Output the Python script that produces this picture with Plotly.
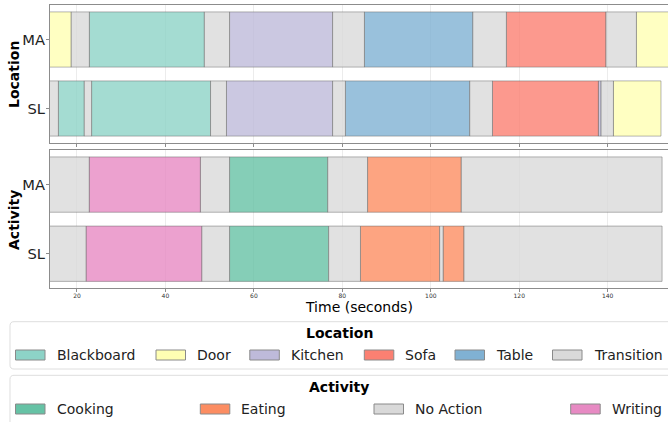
import plotly.graph_objects as go

W, H = 668, 422

# ---------------- data ----------------
rows = ["MA", "SL"]
x_ticks = [20, 40, 60, 80, 100, 120, 140]

location_categories = ["Blackboard", "Door", "Kitchen", "Sofa", "Table", "Transition"]
location_colors = ["#8dd3c7", "#ffffb3", "#bebada", "#fb8072", "#80b1d3", "#d9d9d9"]

activity_categories = ["Cooking", "Eating", "No Action", "Writing"]
activity_colors = ["#66c2a5", "#fc8d62", "#d9d9d9", "#e78ac3"]

loc_ma_labels = ["Door", "Transition", "Blackboard", "Transition", "Kitchen", "Transition",
                 "Table", "Transition", "Sofa", "Transition", "Door"]
loc_ma_starts = [13.0, 18.7, 22.8, 48.8, 54.5, 77.8, 85.0, 109.5, 117.1, 139.6, 146.5]
loc_ma_ends = [18.7, 22.8, 48.8, 54.5, 77.8, 85.0, 109.5, 117.1, 139.6, 146.5, 156.0]

loc_sl_labels = ["Transition", "Blackboard", "Transition", "Blackboard", "Transition", "Kitchen",
                 "Transition", "Table", "Transition", "Sofa", "Kitchen", "Transition", "Door"]
loc_sl_starts = [13.0, 15.8, 21.65, 23.3, 50.2, 53.8, 77.8, 80.7, 108.8, 113.95, 137.9, 138.5, 141.3]
loc_sl_ends = [15.8, 21.65, 23.3, 50.2, 53.8, 77.8, 80.7, 108.8, 113.95, 137.9, 138.5, 141.3, 152.05]

act_ma_labels = ["No Action", "Writing", "No Action", "Cooking", "No Action", "Eating", "No Action"]
act_ma_starts = [13.0, 22.8, 47.9, 54.5, 76.7, 85.7, 106.9]
act_ma_ends = [22.8, 47.9, 54.5, 76.7, 85.7, 106.9, 152.3]

act_sl_labels = ["No Action", "Writing", "No Action", "Cooking", "No Action", "Eating",
                 "No Action", "Eating", "No Action"]
act_sl_starts = [13.0, 22.1, 48.2, 54.5, 76.9, 84.1, 102.0, 102.8, 107.5]
act_sl_ends = [22.1, 48.2, 54.5, 76.9, 84.1, 102.0, 102.8, 107.5, 152.3]


# ---------------- helpers ----------------
def hex_rgba(h, a):
    h = h.lstrip("#")
    r, g, b = int(h[0:2], 16), int(h[2:4], 16), int(h[4:6], 16)
    return f"rgba({r},{g},{b},{a})"


def px_x(px):
    return px / W


def px_y(py):
    return 1 - py / H


EDGE = "rgba(95,95,95,0.45)"
FRAME = "#8c8c8c"
FONT = "DejaVu Sans"

fig = go.Figure()


def add_panel(cats, colors, row_data, xaxis, yaxis):
    for cat, col in zip(cats, colors):
        ys, xs, bases = [], [], []
        for row, (labels, starts, ends) in zip(rows, row_data):
            for lab, s, e in zip(labels, starts, ends):
                if lab == cat:
                    ys.append(row)
                    xs.append(e - s)
                    bases.append(s)
        if not ys:
            continue
        fig.add_trace(go.Bar(
            orientation="h", y=ys, x=xs, base=bases, width=0.8,
            marker=dict(color=hex_rgba(col, 0.8), line=dict(color=EDGE, width=1)),
            name=cat, showlegend=False, xaxis=xaxis, yaxis=yaxis,
            hovertemplate=cat + ": %{base:.1f}–%{x:.1f}s<extra></extra>",
        ))


add_panel(location_categories, location_colors,
          [(loc_ma_labels, loc_ma_starts, loc_ma_ends), (loc_sl_labels, loc_sl_starts, loc_sl_ends)],
          "x", "y")
add_panel(activity_categories, activity_colors,
          [(act_ma_labels, act_ma_starts, act_ma_ends), (act_sl_labels, act_sl_starts, act_sl_ends)],
          "x2", "y2")

x_range = [13.9, 153.64]
x_dom = [px_x(50), 1.0]
top_dom = [px_y(143), px_y(5)]
bot_dom = [px_y(288.3), px_y(150)]

xcommon = dict(range=x_range, domain=x_dom, tickvals=x_ticks, showgrid=True,
               gridcolor="#ececec", gridwidth=1, showline=True, linecolor=FRAME,
               linewidth=1.2, mirror=True, ticks="outside", ticklen=3, tickcolor=FRAME,
               zeroline=False, automargin=False)
ycommon = dict(type="category", categoryorder="array", categoryarray=rows,
               range=[1.5, -0.5], showgrid=False, showline=True, linecolor=FRAME,
               linewidth=1.2, mirror=False, ticks="outside", ticklen=3, tickcolor=FRAME,
               tickfont=dict(family=FONT, size=14.7, color="#222222"), automargin=False,
               zeroline=False, ticklabelstandoff=-2)

fig.update_layout(
    width=W, height=H,
    margin=dict(l=0, r=0, t=0, b=0),
    paper_bgcolor="white", plot_bgcolor="white",
    barmode="overlay",
    font=dict(family=FONT, color="#222222"),
    xaxis=dict(**xcommon, anchor="y", showticklabels=False),
    xaxis2=dict(**xcommon, anchor="y2", matches="x", showticklabels=True,
                tickfont=dict(family=FONT, size=6, color="#333333"), ticklabelstandoff=-2),
    yaxis=dict(**ycommon, domain=top_dom, anchor="x"),
    yaxis2=dict(**ycommon, domain=bot_dom, anchor="x2"),
    showlegend=False,
)

annotations = []
shapes = []

# axis titles
annotations.append(dict(text="<b>Location</b>", x=px_x(14), y=px_y(75), xref="paper", yref="paper",
                        textangle=-90, showarrow=False, font=dict(family=FONT, size=14, color="black"),
                        xanchor="center", yanchor="middle"))
annotations.append(dict(text="<b>Activity</b>", x=px_x(14), y=px_y(220), xref="paper", yref="paper",
                        textangle=-90, showarrow=False, font=dict(family=FONT, size=14, color="black"),
                        xanchor="center", yanchor="middle"))
annotations.append(dict(text="Time (seconds)", x=px_x(359), y=px_y(306.5), xref="paper", yref="paper",
                        showarrow=False, font=dict(family=FONT, size=14, color="black"),
                        xanchor="center", yanchor="middle"))


# ---------------- custom legends ----------------
def rounded_box(x0, y0, x1, y1, r=4):
    X = lambda v: f"{px_x(v):.5f}"
    Y = lambda v: f"{px_y(v):.5f}"
    return (f"M {X(x0 + r)} {Y(y0)} L {X(x1 - r)} {Y(y0)} Q {X(x1)} {Y(y0)} {X(x1)} {Y(y0 + r)} "
            f"L {X(x1)} {Y(y1 - r)} Q {X(x1)} {Y(y1)} {X(x1 - r)} {Y(y1)} "
            f"L {X(x0 + r)} {Y(y1)} Q {X(x0)} {Y(y1)} {X(x0)} {Y(y1 - r)} "
            f"L {X(x0)} {Y(y0 + r)} Q {X(x0)} {Y(y0)} {X(x0 + r)} {Y(y0)} Z")


def add_legend(title, cats, colors, swatch_x, box_top, box_bottom, title_y, entry_y):
    shapes.append(dict(type="path", path=rounded_box(10, box_top, 680, box_bottom),
                       xref="paper", yref="paper", line=dict(color="#dedede", width=1),
                       fillcolor="rgba(255,255,255,0.8)", layer="above"))
    annotations.append(dict(text=f"<b>{title}</b>", x=px_x(339), y=px_y(title_y), xref="paper",
                            yref="paper", showarrow=False, xanchor="center", yanchor="middle",
                            font=dict(family=FONT, size=14, color="black")))
    for cat, col, sx in zip(cats, colors, swatch_x):
        shapes.append(dict(type="rect", xref="paper", yref="paper",
                           x0=px_x(sx), x1=px_x(sx + 29.5), y0=px_y(entry_y + 5), y1=px_y(entry_y - 5),
                           fillcolor=col, line=dict(color="#8a8a8a", width=1), layer="above"))
        annotations.append(dict(text=cat, x=px_x(sx + 39), y=px_y(entry_y), xref="paper", yref="paper",
                                showarrow=False, xanchor="left", yanchor="middle",
                                font=dict(family=FONT, size=14, color="#222222")))


add_legend("Location", location_categories, location_colors,
           [15.5, 156, 249.8, 364.3, 455, 552.5], 321.7, 369, 333, 355)
add_legend("Activity", activity_categories, activity_colors,
           [15.5, 200.3, 374, 570.7], 375.3, 430, 387, 409)

fig.update_layout(annotations=annotations, shapes=shapes)

fig.write_html("out.html")
